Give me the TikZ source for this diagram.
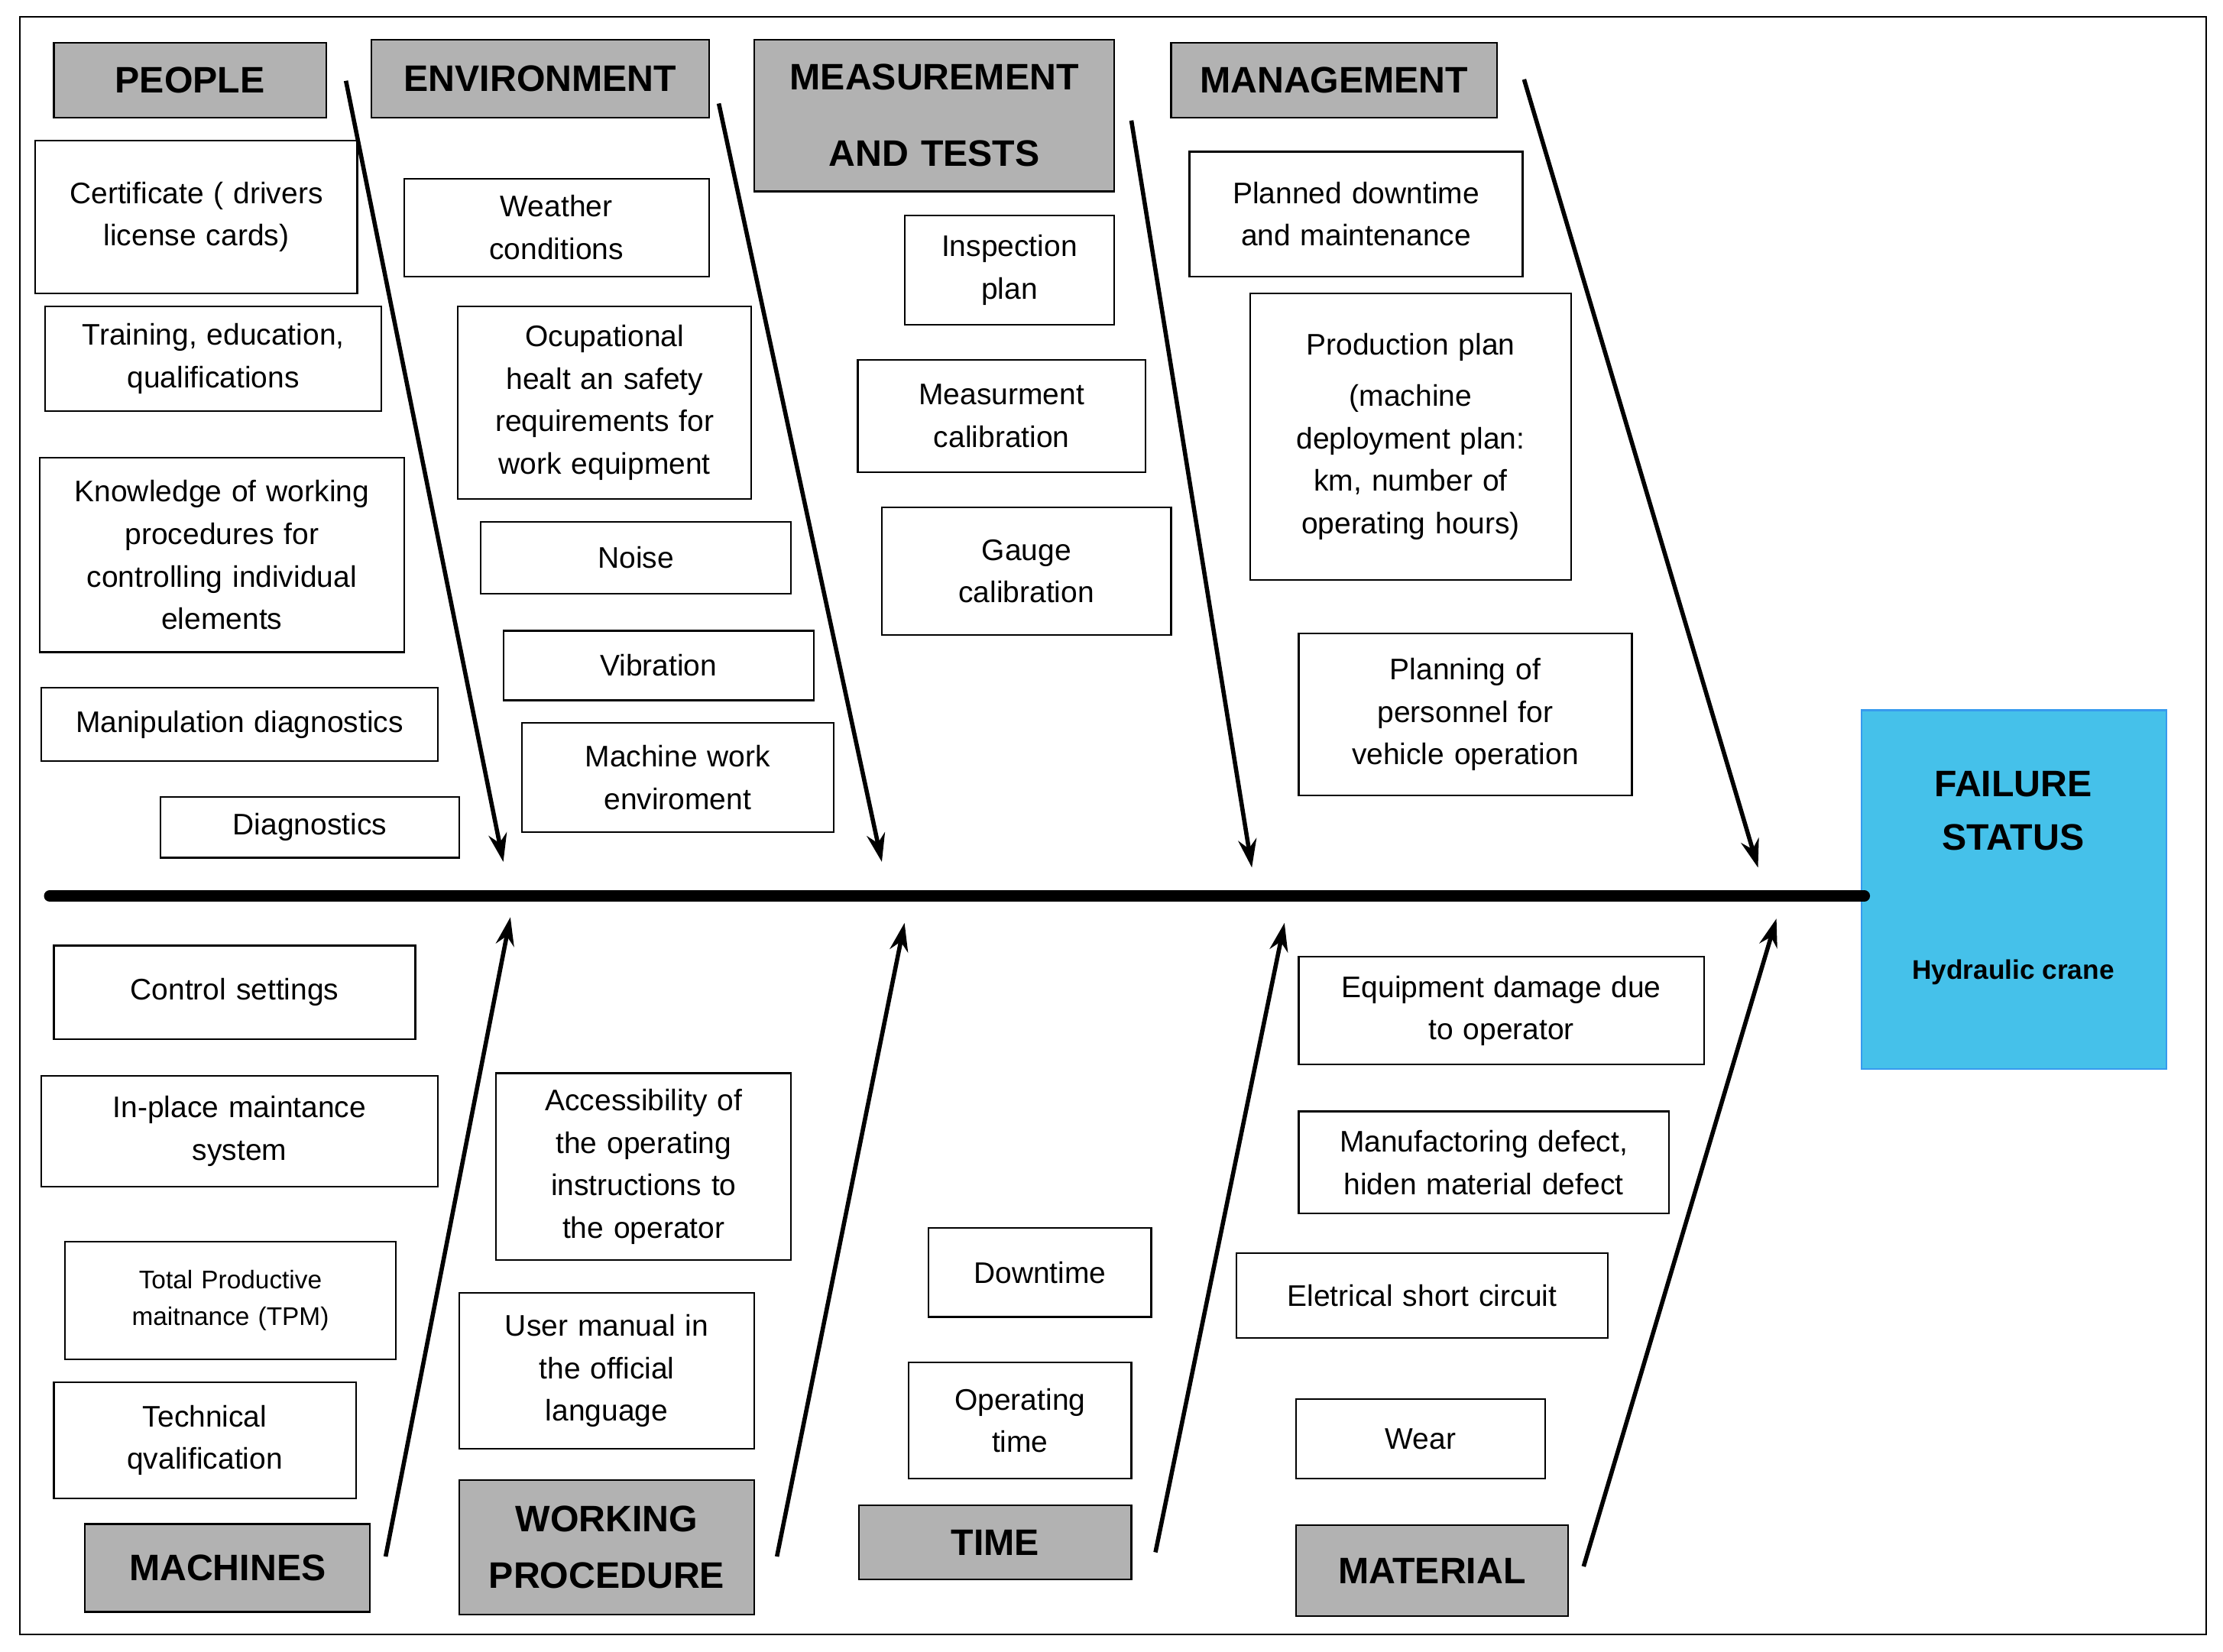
\documentclass[tikz,border=0pt]{standalone}
\usepackage{fontspec}
\setmainfont{Liberation Sans}
\usetikzlibrary{arrows.meta}
\definecolor{failc}{HTML}{45C1EA}
\newcommand{\mybx}[7]{%
  \pgfmathsetmacro{\cx}{(#3+#5)/2}\pgfmathsetmacro{\cy}{(#4+#6)/2}%
  \pgfmathsetmacro{\w}{#5-#3}\pgfmathsetmacro{\h}{#6-#4}%
  \node[#1, minimum width=\w pt, minimum height=\h pt, text width=\w pt-8pt] (#2) at (\cx,\cy) {#7};}
\begin{document}
\begin{tikzpicture}[x=1pt,y=-1pt,
  box/.style={draw=black,line width=1.2pt,fill=white,inner sep=0pt,align=center,font=\fontsize{21}{30}\selectfont},
  sbox/.style={box,font=\fontsize{18}{26}\selectfont},
  hdr/.style={draw=black,line width=1.2pt,fill=gray!60,inner sep=0pt,align=center,font=\fontsize{26}{54}\selectfont\bfseries},
  hdr2/.style={hdr,font=\fontsize{26}{40}\selectfont\bfseries},
  arr/.style={line width=3pt,-{Stealth[length=20pt,width=13pt]}}]
\useasboundingbox (0,0) rectangle (1568,1165);
\draw[line width=1pt] (14,12) rectangle (1556,1153);
\mybx{hdr}{people}{38}{30}{230}{83}{PEOPLE}
\mybx{hdr}{env}{262}{28}{500}{83}{ENVIRONMENT}
\mybx{hdr}{meas}{532}{28}{786}{135}{MEASUREMENT\\AND TESTS}
\mybx{hdr}{mgmt}{826}{30}{1056}{83}{MANAGEMENT}
\mybx{box}{b1}{25}{99}{252}{207}{Certificate ( drivers\\license cards)}
\mybx{box}{b2}{32}{216}{269}{290}{Training, education,\\qualifications}
\mybx{box}{b3}{28}{323}{285}{460}{Knowledge of working\\procedures for\\controlling individual\\elements}
\mybx{box}{b4}{29}{485}{309}{537}{Manipulation diagnostics}
\mybx{box}{b5}{113}{562}{324}{605}{Diagnostics}
\mybx{box}{b6}{285}{126}{500}{195}{Weather\\conditions}
\mybx{box}{b7}{323}{216}{530}{352}{Ocupational\\healt an safety\\requirements for\\work equipment}
\mybx{box}{b8}{339}{368}{558}{419}{Noise}
\mybx{box}{b9}{355}{445}{574}{494}{Vibration}
\mybx{box}{b10}{368}{510}{588}{587}{Machine work\\enviroment}
\mybx{box}{b11}{638}{152}{786}{229}{Inspection\\plan}
\mybx{box}{b12}{605}{254}{808}{333}{Measurment\\calibration}
\mybx{box}{b13}{622}{358}{826}{448}{Gauge\\calibration}
\mybx{box}{b14}{839}{107}{1074}{195}{Planned downtime\\and maintenance}
\mybx{box}{b15}{882}{207}{1108}{409}{Production plan\\[6pt](machine\\deployment plan:\\km, number of\\operating hours)}
\mybx{box}{b16}{916}{447}{1151}{561}{Planning of\\personnel for\\vehicle operation}
\node[draw=failc!80!blue,line width=1.2pt,fill=failc,minimum width=215pt,minimum height=253pt,inner sep=0pt] (fail) at (1420.5,627.5) {};
\node[align=center,font=\fontsize{26}{38}\selectfont\bfseries] (failt) at (1420,572) {FAILURE\\STATUS};
\node[font=\fontsize{19}{22}\selectfont\bfseries] (crane) at (1420,686) {Hydraulic crane};
\coordinate (s0) at (35,632);
\coordinate (s1) at (1315,632);
\draw[line width=8pt,line cap=round] (s0) -- (s1);
\coordinate (u1a) at (244,57); \coordinate (u1b) at (355,608);
\coordinate (u2a) at (507,73); \coordinate (u2b) at (622,608);
\coordinate (u3a) at (798,85); \coordinate (u3b) at (883,612);
\coordinate (u4a) at (1075,56); \coordinate (u4b) at (1240,612);
\coordinate (l1a) at (272,1098); \coordinate (l1b) at (360,647);
\coordinate (l2a) at (548,1098); \coordinate (l2b) at (638,651);
\coordinate (l3a) at (815,1095); \coordinate (l3b) at (906,651);
\coordinate (l4a) at (1117,1105); \coordinate (l4b) at (1253,648);
\foreach \a in {u1,u2,u3,u4,l1,l2,l3,l4} \draw[arr] (\a a) -- (\a b);
\mybx{box}{c1}{38}{667}{293}{733}{Control settings}
\mybx{box}{c2}{29}{759}{309}{837}{In-place maintance\\system}
\mybx{sbox}{c3}{46}{876}{279}{959}{Total Productive\\maitnance (TPM)}
\mybx{box}{c4}{38}{975}{251}{1057}{Technical\\qvalification}
\mybx{hdr}{mach}{60}{1075}{261}{1137}{MACHINES}
\mybx{box}{c5}{350}{757}{558}{889}{Accessibility of\\the operating\\instructions to\\the operator}
\mybx{box}{c6}{324}{912}{532}{1022}{User manual in\\the official\\language}
\mybx{hdr2}{work}{324}{1044}{532}{1139}{WORKING\\PROCEDURE}
\mybx{box}{c7}{655}{866}{812}{929}{Downtime}
\mybx{box}{c8}{641}{961}{798}{1043}{Operating\\time}
\mybx{hdr}{time}{606}{1062}{798}{1114}{TIME}
\mybx{box}{c9}{916}{675}{1202}{751}{Equipment damage due\\to operator}
\mybx{box}{c10}{916}{784}{1177}{856}{Manufactoring defect,\\hiden material defect}
\mybx{box}{c11}{872}{884}{1134}{944}{Eletrical short circuit}
\mybx{box}{c12}{914}{987}{1090}{1043}{Wear}
\mybx{hdr}{mat}{914}{1076}{1106}{1140}{MATERIAL}
\end{tikzpicture}
\end{document}
